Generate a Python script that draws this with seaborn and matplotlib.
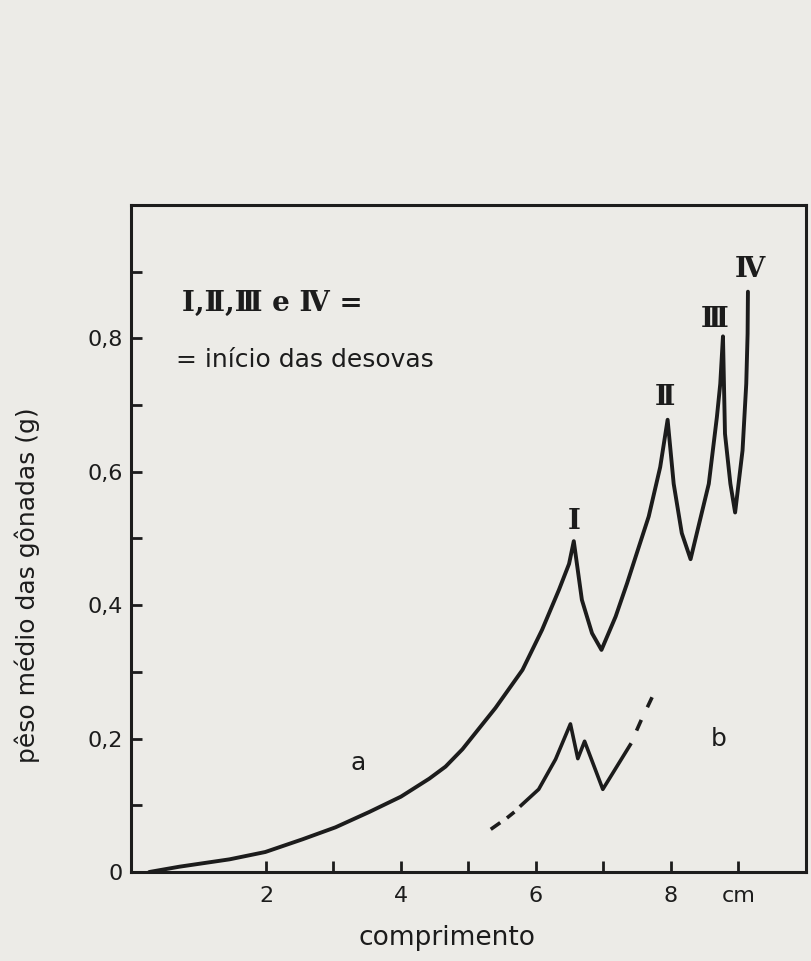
import numpy as np
import pandas as pd
import matplotlib
matplotlib.use("Agg")
import matplotlib.pyplot as plt
import seaborn as sns

# curve a: mean gonad weight vs length, with spawning spikes I-IV
a_len = [0.27, 0.72, 1.46, 1.99, 2.54, 3.03, 3.53, 4.0, 4.42, 4.66, 4.91, 5.40, 5.80,
         6.09, 6.34, 6.49, 6.56,
         6.68, 6.83, 6.97, 7.18, 7.35, 7.50, 7.67, 7.84, 7.95,
         8.04, 8.16, 8.29, 8.56, 8.68, 8.73, 8.77,
         8.80, 8.88, 8.95, 9.06, 9.115, 9.135, 9.14]
a_weight = [0.0, 0.008, 0.019, 0.030, 0.049, 0.067, 0.090, 0.113, 0.140, 0.158, 0.184, 0.246, 0.303,
            0.363, 0.423, 0.462, 0.496,
            0.408, 0.358, 0.333, 0.383, 0.433, 0.480, 0.533, 0.607, 0.678,
            0.582, 0.508, 0.469, 0.582, 0.682, 0.732, 0.803,
            0.657, 0.582, 0.539, 0.632, 0.732, 0.807, 0.870]

# curve b: solid part and the short dashes around it
b_len = [5.76, 6.04, 6.29, 6.51, 6.62, 6.72, 6.99, 7.41]
b_weight = [0.098, 0.124, 0.169, 0.222, 0.170, 0.196, 0.124, 0.193]
b_dash_len = [[5.33, 5.47], [5.57, 5.68], [7.49, 7.56], [7.65, 7.72]]
b_dash_weight = [[0.064, 0.074], [0.081, 0.090], [0.212, 0.228], [0.247, 0.262]]

peak_labels = ["Ⅰ", "Ⅱ", "Ⅲ", "Ⅳ"]

sns.set_style("ticks")
plt.rcParams['font.family'] = ['DejaVu Sans']

ink = "#1c1c1c"
paper = "#ecebe7"

fig = plt.figure(figsize=(8.12, 9.61), dpi=100, facecolor=paper)
ax = fig.add_axes([0.1613, 0.0926, 0.8313, 0.6941])
ax.set_facecolor(paper)

sns.lineplot(x=a_len, y=a_weight, sort=False, estimator=None, color=ink, linewidth=2.8, ax=ax)
sns.lineplot(x=b_len, y=b_weight, sort=False, estimator=None, color=ink, linewidth=2.6,
             solid_capstyle="butt", ax=ax)
for dx, dy in zip(b_dash_len, b_dash_weight):
    sns.lineplot(x=dx, y=dy, sort=False, estimator=None, color=ink, linewidth=2.6,
                 solid_capstyle="butt", ax=ax)

ax.set_xlim(0, 10)
ax.set_ylim(0, 1.0)

ax.set_xticks([2, 3, 4, 5, 6, 7, 8, 9])
ax.set_xticklabels(["2", "", "4", "", "6", "", "8", "cm"])
ax.set_yticks([0, 0.1, 0.2, 0.3, 0.4, 0.5, 0.6, 0.7, 0.8, 0.9])
ax.set_yticklabels(["0", "", "0,2", "", "0,4", "", "0,6", "", "0,8", ""])
ax.tick_params(axis="both", direction="in", length=8, width=2, colors=ink,
               labelsize=16, labelcolor=ink)
ax.tick_params(axis="x", pad=10)
ax.tick_params(axis="y", pad=6)

for s in ax.spines.values():
    s.set_linewidth(2.2)
    s.set_color(ink)

ax.set_xlabel("comprimento", fontsize=19, color=ink)
ax.xaxis.set_label_coords(0.468, -0.08)
ax.set_ylabel("pêso médio das gônadas (g)", fontsize=18, color=ink)
ax.yaxis.set_label_coords(-0.135, 0.43)

# spawning peak labels
serif = dict(family=["DejaVu Serif", "DejaVu Sans"], fontweight="bold", fontsize=20, color=ink,
             ha="center", va="center")
ax.text(6.56, 0.525, peak_labels[0], **serif)
ax.text(7.91, 0.712, peak_labels[1], **serif)
ax.text(8.65, 0.829, peak_labels[2], **serif)
ax.text(9.17, 0.904, peak_labels[3], **serif)

# key
ax.text(0.75, 0.853, "Ⅰ,Ⅱ,Ⅲ e Ⅳ =", ha="left", va="center",
        family=["DejaVu Serif", "DejaVu Sans"], fontweight="bold", fontsize=20, color=ink)
ax.text(0.67, 0.767, "= início das desovas", ha="left", va="center", fontsize=18, color=ink)

ax.text(3.37, 0.164, "a", ha="center", va="center", fontsize=18, color=ink)
ax.text(8.71, 0.199, "b", ha="center", va="center", fontsize=18, color=ink)

fig.savefig("out.png", dpi=100, facecolor=paper)
